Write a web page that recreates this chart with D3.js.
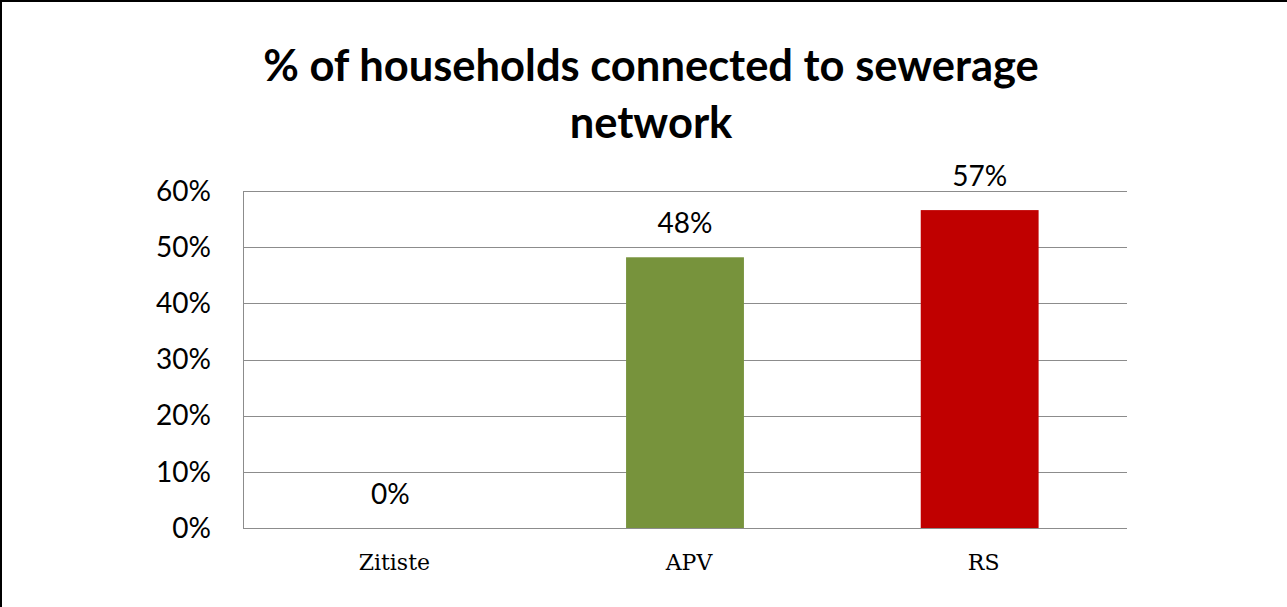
<!DOCTYPE html>
<html><head><meta charset="utf-8">
<script src="https://cdn.jsdelivr.net/npm/d3@7"></script>
<style>
html,body{margin:0;padding:0;background:#fff;}
svg{display:block;}
</style></head>
<body>
<svg id="chart" width="1287" height="607"></svg>
<script>
const titleLines = ["% of households connected to sewerage", "network"];
const categories = ["Zitiste", "APV", "RS"];
const values = [0, 48.2, 56.6];
const valueLabels = ["0%", "48%", "57%"];
const colors = ["#77933C", "#77933C", "#C00000"];
const yTicks = [0, 10, 20, 30, 40, 50, 60];

const W = 1287, H = 607;
const m = {left: 243, right: 1127, top: 191, bottom: 528};
const svg = d3.select("#chart");

svg.append("rect").attr("x",0).attr("y",0).attr("width",W).attr("height",H).attr("fill","#fff");
// borders (top and left)
svg.append("line").attr("x1",0).attr("x2",W).attr("y1",1).attr("y2",1).attr("stroke","#000").attr("stroke-width",2);
svg.append("line").attr("x1",1).attr("x2",1).attr("y1",0).attr("y2",H).attr("stroke","#000").attr("stroke-width",2);

const x = d3.scaleBand().domain(categories).range([m.left, m.right]).paddingInner(0.6).paddingOuter(0.3);
const y = d3.scaleLinear().domain([0, 60]).range([m.bottom, m.top]);

// gridlines
svg.append("g").selectAll("line").data(yTicks).join("line")
  .attr("x1", m.left).attr("x2", m.right)
  .attr("y1", d => Math.round(y(d)) + 0.5).attr("y2", d => Math.round(y(d)) + 0.5)
  .attr("stroke", "#8c8c8c").attr("stroke-width", 1);
// left axis line
svg.append("line").attr("x1", m.left + 0.5).attr("x2", m.left + 0.5)
  .attr("y1", m.top).attr("y2", m.bottom).attr("stroke", "#8c8c8c");

// y tick labels
svg.append("g").selectAll("text").data(yTicks).join("text")
  .attr("x", 211).attr("y", d => y(d)).attr("dy", "0.35em")
  .attr("text-anchor", "end")
  .attr("font-family", "Lato, 'Open Sans', sans-serif").attr("font-size", 28).attr("fill", "#000")
  .text(d => d + "%");

// bars
svg.append("g").selectAll("rect").data(values).join("rect")
  .attr("x", (d, i) => x(categories[i]))
  .attr("width", x.bandwidth())
  .attr("y", d => y(d))
  .attr("height", d => y(0) - y(d))
  .attr("fill", (d, i) => colors[i]);

// value labels
svg.append("g").selectAll("text").data(values).join("text")
  .attr("x", (d, i) => x(categories[i]) + x.bandwidth() / 2)
  .attr("y", d => y(d) - 24)
  .attr("text-anchor", "middle")
  .attr("font-family", "Lato, 'Open Sans', sans-serif").attr("font-size", 28).attr("fill", "#000")
  .text((d, i) => valueLabels[i]);

// category labels
svg.append("g").selectAll("text").data(categories).join("text")
  .attr("x", d => x(d) + x.bandwidth() / 2 + 4)
  .attr("y", 570)
  .attr("text-anchor", "middle")
  .attr("font-family", "'DejaVu Serif', serif").attr("font-size", 22).attr("fill", "#000")
  .text(d => d);

// title
svg.append("g").selectAll("text").data(titleLines).join("text")
  .attr("x", 651).attr("y", (d, i) => 81 + i * 57)
  .attr("text-anchor", "middle")
  .attr("font-family", "Lato, 'Open Sans', sans-serif").attr("font-weight", "bold")
  .attr("font-size", 43.5).attr("fill", "#000")
  .text(d => d);
</script>
</body></html>
